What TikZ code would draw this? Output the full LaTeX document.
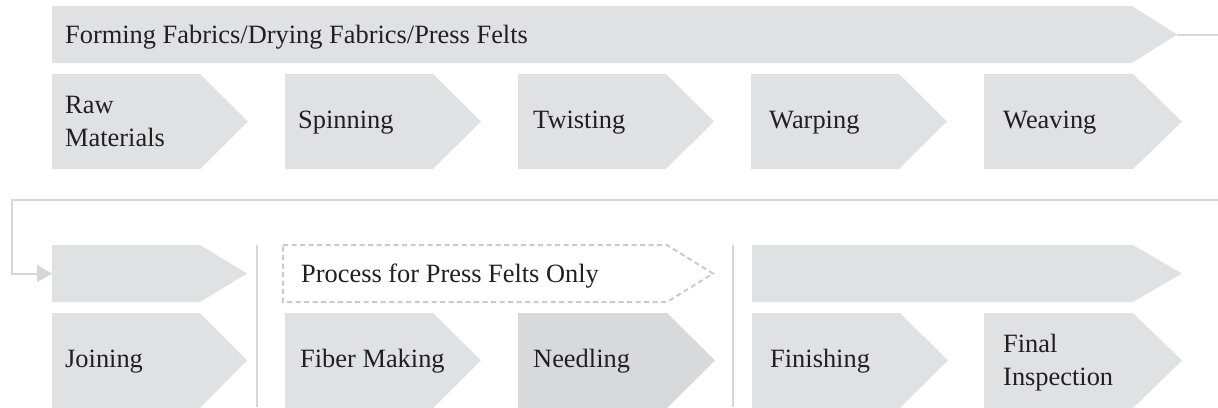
\documentclass[tikz,border=0pt]{standalone}
\usepackage{fontspec}
\setmainfont{Liberation Serif}
\usetikzlibrary{arrows.meta}
\definecolor{boxfill}{HTML}{E0E1E3}
\definecolor{boxdark}{HTML}{D8D9DB}
\definecolor{linegray}{HTML}{D6D7D9}
\definecolor{dashgray}{HTML}{C9CACC}
\definecolor{txt}{HTML}{231F20}
\tikzset{
  lbl/.style={inner sep=0pt, text=txt, font=\fontsize{26.4}{33}\selectfont},
  conn/.style={draw=linegray, line width=2pt},
}
% #1 x left, #2 y top, #3 y bottom, #4 body end x, #5 tip x, #6 style
\newcommand\chevshape[6]{%
  \path[#6] (#1,#2) -- (#4,#2) -- (#5,{(#2+#3)/2}) -- (#4,#3) -- (#1,#3) -- cycle;}
\begin{document}
\begin{tikzpicture}[x=1pt,y=-1pt]
\useasboundingbox (0,0) rectangle (1218,407);
% top banner
\chevshape{52}{6}{63}{1132}{1177}{fill=boxfill}
\coordinate (bannertip) at (1177,34.5);
\coordinate (bannerend) at (1218,34.5);
\node[lbl, anchor=base west] (banner) at (65,43) {Forming Fabrics/Drying Fabrics/Press Felts};
% row 1
\chevshape{52}{74}{169}{200}{248}{fill=boxfill}
\chevshape{285}{74}{169}{433}{481}{fill=boxfill}
\chevshape{518}{74}{169}{666}{714}{fill=boxfill}
\chevshape{751}{74}{169}{899}{947}{fill=boxfill}
\chevshape{984}{74}{169}{1133}{1182}{fill=boxfill}
\node[lbl, anchor=west, align=left] (raw) at (65,121.5) {Raw\\Materials};
\node[lbl, anchor=base west] (spin) at (298,128) {Spinning};
\node[lbl, anchor=base west] (twist) at (533,128) {Twisting};
\node[lbl, anchor=base west] (warp) at (769,128) {Warping};
\node[lbl, anchor=base west] (weave) at (1003,128) {Weaving};
% loop connector
\coordinate (loopstart) at (1218,200);
\coordinate (loopc1) at (12,200);
\coordinate (loopc2) at (12,273.5);
\coordinate (jointop) at (52,273.5);
\draw[conn] (bannertip) -- (bannerend);
\draw[conn, -{Triangle[length=15pt,width=17pt]}, linegray] (loopstart) -- (loopc1) -- (loopc2) -- (jointop);
% row 2
\chevshape{52}{245}{302}{200}{247}{fill=boxfill}
\chevshape{283}{245}{302}{667}{713}{draw=dashgray, line width=2pt, dash pattern=on 5pt off 3.5pt}
\node[lbl, anchor=base west] (press) at (301,282) {Process for Press Felts Only};
\chevshape{752}{245}{302}{1133}{1182}{fill=boxfill}
% row 3
\chevshape{52}{313}{408}{200}{247}{fill=boxfill}
\chevshape{285}{313}{408}{433}{481}{fill=boxfill}
\chevshape{518}{313}{408}{667}{715}{fill=boxdark}
\chevshape{752}{313}{408}{900}{948}{fill=boxfill}
\chevshape{984}{313}{408}{1133}{1182}{fill=boxfill}
\node[lbl, anchor=base west] (join) at (65,367) {Joining};
\node[lbl, anchor=base west] (fiber) at (300,367) {Fiber Making};
\node[lbl, anchor=base west] (needle) at (533,367) {Needling};
\node[lbl, anchor=base west] (finish) at (770,367) {Finishing};
\node[lbl, anchor=west, align=left] (final) at (1003,363) {Final\\Inspection};
% separators
\coordinate (sep1t) at (257,245);
\coordinate (sep1b) at (257,407);
\coordinate (sep2t) at (733,245);
\coordinate (sep2b) at (733,407);
\draw[conn] (sep1t) -- (sep1b);
\draw[conn] (sep2t) -- (sep2b);
\end{tikzpicture}
\end{document}
